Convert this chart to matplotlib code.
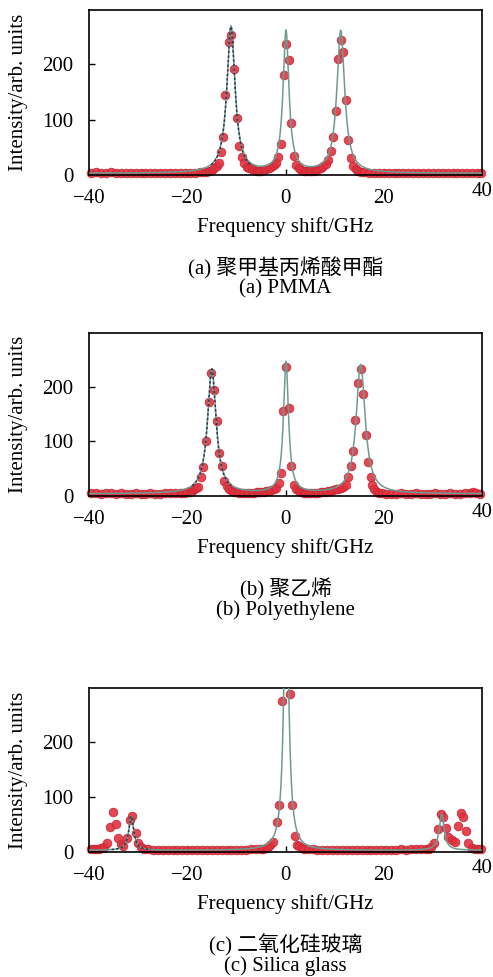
import numpy as np
import matplotlib
matplotlib.use("Agg")
import matplotlib.pyplot as plt

plt.rcParams["font.family"] = ["Liberation Serif", "Noto Sans CJK SC"]

# ---------------- data ----------------
# (a) PMMA
pmma_f = [-39.5, -38.5, -37.5, -36.5, -35.5, -34.5, -33.5, -32.5, -31.5, -30.5,
          -29.5, -28.5, -27.5, -26.5, -25.5, -24.5, -23.5, -22.5, -21.5, -20.5,
          -19.5, -18.5, -17.5, -16.8, -16.2, -15.6, -15.0, -14.5, -14.0, -13.54,
          -13.13, -12.66, -12.25, -11.6, -11.1, -10.55, -9.94, -9.47, -8.9, -8.4,
          -7.9, -7.4, -6.9, -6.4, -5.9, -5.4, -4.9, -4.4, -3.9, -3.4,
          -2.9, -2.4, -2.0, -1.46, -0.92, -0.37, 0.1, 0.71, 1.12, 1.67,
          2.2, 2.7, 3.2, 3.7, 4.2, 4.7, 5.2, 5.7, 6.2, 6.7,
          7.2, 7.7, 8.2, 8.72, 9.26, 9.74, 10.35, 10.75, 11.3, 11.77,
          12.32, 12.79, 13.27, 13.8, 14.3, 14.8, 15.4, 16.0, 17.0, 18.0,
          19.0, 20.0, 21.0, 22.0, 23.0, 24.0, 25.0, 26.0, 27.0, 28.0,
          29.0, 30.0, 31.0, 32.0, 33.0, 34.0, 35.0, 36.0, 37.0, 38.0,
          39.0, 39.7]
pmma_i = [4, 5, 4, 4, 5, 4, 3, 4, 4, 3,
          4, 3, 3, 4, 3, 3, 3, 4, 3, 3,
          4, 4, 5, 5, 6, 7, 9, 12, 16, 21,
          42, 69, 145, 240, 252, 192, 103, 53, 32, 21,
          15, 12, 10, 9, 8, 8, 8, 9, 10, 12,
          15, 18, 22, 33, 56, 181, 236, 207, 94, 35,
          18, 12, 9, 8, 7, 7, 7, 8, 9, 11,
          13, 16, 20, 27, 43, 69, 115, 210, 243, 223,
          136, 63, 30, 17, 11, 8, 6, 5, 4, 4,
          3, 4, 4, 3, 4, 4, 3, 4, 4, 3,
          4, 4, 3, 4, 4, 4, 3, 4, 4, 4,
          4, 4]
pmma_peaks_c = [-11.1, 0.1, 11.25]
pmma_peaks_h = [265, 255, 257]
pmma_peaks_w = [1.0, 0.72, 0.95]

# (b) Polyethylene
pe_f = [-39.5, -38.5, -37.5, -36.5, -35.5, -34.5, -33.5, -32.5, -31.5, -30.5,
        -29.5, -28.5, -27.5, -26.5, -25.5, -24.5, -23.5, -22.5, -21.5, -21.0,
        -20.5, -20.0, -19.5, -19.0, -18.6, -18.2, -17.75, -17.27, -16.73, -16.18,
        -15.64, -15.1, -14.49, -14.03, -13.47, -12.93, -12.45, -11.9, -11.4, -10.9,
        -10.4, -9.9, -9.4, -8.9, -8.4, -7.9, -7.4, -6.9, -6.4, -5.9,
        -5.4, -4.9, -4.4, -3.9, -3.4, -2.9, -2.4, -1.9, -1.38, -0.92,
        -0.45, 0.1, 0.77, 1.18, 1.67, 2.2, 2.7, 3.2, 3.7, 4.2,
        4.7, 5.2, 5.7, 6.2, 6.7, 7.2, 7.7, 8.2, 8.7, 9.2,
        9.7, 10.2, 10.7, 11.2, 11.8, 12.32, 12.79, 13.26, 13.67, 14.21,
        14.82, 15.3, 15.84, 16.37, 16.85, 17.33, 17.66, 18.1, 18.6, 19.1,
        19.6, 20.5, 21.5, 22.5, 23.5, 24.5, 25.5, 26.5, 27.5, 28.5,
        29.5, 30.5, 31.5, 32.5, 33.5, 34.5, 35.5, 36.5, 37.5, 38.2,
        38.8, 39.6]
pe_i = [5, 5, 4, 5, 5, 4, 5, 4, 4, 5,
        4, 4, 5, 4, 4, 5, 5, 5, 5, 5,
        6, 7, 8, 10, 12, 14, 17, 35, 53, 100,
        172, 224, 194, 138, 78, 54, 28, 18, 13, 10,
        8, 7, 6, 6, 6, 6, 6, 6, 6, 7,
        7, 8, 8, 9, 10, 11, 12, 15, 23, 42,
        155, 236, 161, 55, 21, 12, 9, 7, 6, 6,
        6, 6, 6, 6, 6, 7, 7, 8, 9, 10,
        11, 12, 13, 15, 17, 20, 35, 54, 83, 139,
        207, 233, 187, 112, 62, 34, 20, 12, 8, 6,
        5, 4, 4, 4, 5, 4, 4, 5, 4, 4,
        4, 5, 4, 4, 5, 4, 4, 5, 5, 8,
        6, 4]
pe_peaks_c = [-15.0, 0.1, 15.3]
pe_peaks_h = [228, 240, 236]
pe_peaks_w = [1.05, 0.62, 1.1]

# (c) Silica glass
si_f = [-39.6, -39.0, -38.5, -38.0, -37.5, -37.0, -36.27, -35.73, -35.11, -34.57,
        -34.03, -33.49, -33.0, -32.33, -31.72, -31.2, -30.5, -29.96, -29.4, -28.8,
        -28.0, -27.0, -26.0, -25.0, -24.0, -23.0, -22.0, -21.0, -20.0, -19.0,
        -18.0, -17.0, -16.0, -15.0, -14.0, -13.0, -12.0, -11.0, -10.0, -9.0,
        -8.0, -7.0, -6.0, -5.0, -4.5, -4.0, -3.6, -3.15, -2.48, -1.8,
        -1.26, -0.65, 0.92, 1.39, 1.93, 2.4, 2.8, 3.3, 3.8, 4.5,
        5.5, 6.5, 7.5, 8.5, 9.5, 10.5, 11.5, 12.5, 13.5, 14.5,
        15.5, 16.5, 17.5, 18.5, 19.5, 20.5, 21.5, 22.5, 23.5, 24.5,
        25.5, 26.5, 27.5, 28.5, 29.2, 29.7, 30.29, 30.98, 31.65, 32.13,
        32.6, 33.15, 33.8, 34.6, 35.17, 35.66, 36.2, 36.68, 37.2, 37.9,
        38.5, 39.2, 39.7]
si_i = [5, 5, 5, 6, 7, 9, 17, 46, 73, 50,
        25, 15, 10, 25, 58, 65, 34, 16, 9, 6,
        5, 4, 4, 4, 3, 4, 4, 3, 4, 4,
        3, 4, 4, 4, 3, 4, 4, 4, 4, 4,
        4, 5, 5, 5, 6, 7, 9, 13, 19, 55,
        85, 275, 287, 85, 29, 13, 10, 8, 6, 5,
        5, 4, 4, 4, 4, 3, 4, 4, 4, 4,
        4, 4, 4, 4, 4, 4, 4, 4, 5, 4,
        5, 5, 5, 5, 6, 9, 16, 41, 69, 64,
        43, 27, 22, 19, 47, 71, 64, 39, 17, 7,
        6, 6, 6]
si_peaks_c = [-31.4, 0.15, 31.8]
si_peaks_h = [62, 500, 66]
si_peaks_w = [0.6, 0.6, 0.6]

panels = [
    (pmma_f, pmma_i, pmma_peaks_c, pmma_peaks_h, pmma_peaks_w, 3,
     "(a) 聚甲基丙烯酸甲酯", "(a) PMMA"),
    (pe_f, pe_i, pe_peaks_c, pe_peaks_h, pe_peaks_w, 4,
     "(b) 聚乙烯", "(b) Polyethylene"),
    (si_f, si_i, si_peaks_c, si_peaks_h, si_peaks_w, 3,
     "(c) 二氧化硅玻璃", "(c) Silica glass"),
]

# axes boxes in pixels: (top, bottom) ; left/right shared
W, H = 493, 977
ax_left, ax_right = 89, 482
ax_boxes = [(10, 175), (333, 496), (688, 852)]

fig = plt.figure(figsize=(W / 100, H / 100), dpi=100)
fs = 15


def lorentz(x, c, h, w):
    return h / (1 + ((x - c) / w) ** 2)


for (f, inten, pc, ph, pw, base, cap_cn, cap_en), (top, bot) in zip(panels, ax_boxes):
    ax = fig.add_axes([ax_left / W, 1 - bot / H, (ax_right - ax_left) / W, (bot - top) / H])

    ax.plot(f, inten, "o", ms=6.2, mfc="#e2323f", mec="#c42633", mew=0.6,
            alpha=0.9, zorder=2, clip_on=False)

    # fitted Lorentzian curves
    xs = np.linspace(-40, 40, 4001)
    total = base + sum(lorentz(xs, c, h, w) for c, h, w in zip(pc, ph, pw))
    ax.plot(xs, total, color="#6f9a92", lw=1.1, zorder=3)
    mask = np.abs(xs - pc[0]) < 4
    left = base + lorentz(xs, pc[0], ph[0], pw[0])
    ax.plot(xs[mask], left[mask], color="#2c3550", lw=1.1, ls=(0, (1.5, 1.5)), zorder=4)

    ax.set_xlim(-40, 40)
    ax.set_ylim(0, 298)
    ax.set_xticks([-40, -20, 0, 20, 40])
    ax.set_xticklabels(["\u221240", "\u221220", "0", "20", ""])
    ax.set_yticks([0, 100, 200])
    ax.tick_params(direction="in", length=4, width=1, labelsize=fs)
    ax.tick_params(axis="x", pad=10)
    ax.tick_params(axis="y", pad=11)
    for s in ax.spines.values():
        s.set_linewidth(1.2)
    # the "40" label sits a bit higher than the others
    ax.annotate("40", xy=(40, 0), xycoords=("data", "axes fraction"),
                xytext=(0, -5), textcoords="offset points",
                ha="center", va="top", fontsize=fs)

    ax.set_ylabel("Intensity/arb. units", fontsize=fs)
    ax.yaxis.set_label_coords(-(ax_left - 18) / (ax_right - ax_left), 0.5)
    ax.yaxis.label.set_va("center")

    ax.set_xlabel("Frequency shift/GHz", fontsize=fs)
    ax.xaxis.set_label_coords(0.5, -52 / (bot - top))
    ax.xaxis.label.set_va("center")

    xc = (ax_left + ax_right) / 2 / W
    fig.text(xc, 1 - (bot + 93) / H, cap_cn, ha="center", va="center", fontsize=fs)
    fig.text(xc, 1 - (bot + 114) / H, cap_en, ha="center", va="center", fontsize=fs)

fig.savefig("out.png", dpi=100)
